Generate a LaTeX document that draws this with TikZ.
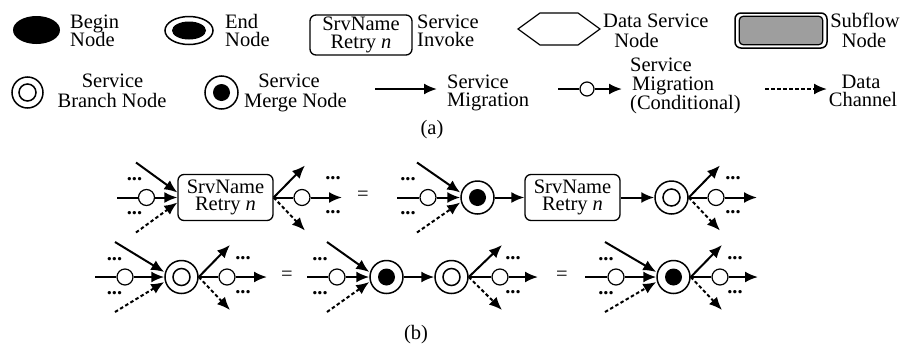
\documentclass[tikz,border=0pt]{standalone}
\usepackage{fontspec}
\setmainfont{Liberation Serif}
\usetikzlibrary{arrows.meta,calc,shapes.geometric}

% incoming fan: horizontal conditional migration, solid and dashed diagonals
% #1 prefix, #2 target node, #3 start x, #4 circle x, #5 diagonal start x, #6 row y, #7 dots x
\newcommand\infan[7]{%
  \coordinate (#1s) at (#3,#6);
  \node[cond] (#1c) at (#4,#6) {};
  \coordinate (#1a) at (#5,#6-35);
  \coordinate (#1b) at (#5,#6+35);
  \node[dotstxt] (#1u) at (#7,#6-18) {...};
  \node[dotstxt] (#1d) at (#7,#6+16) {...};
  \draw[edge] (#1s) -- (#1c);
  \draw[flow] (#1c) -- (#2.west);
  \draw[flow] (#1a) -- ($(#2.west)+(0,-5)$);
  \draw[dflow] (#1b) -- ($(#2.west)+(0,5)$);
}
% outgoing fan
% #1 prefix, #2 source node, #3 circle x, #4 tip x, #5 diagonal tip x, #6 row y, #7 dots x
\newcommand\outfan[7]{%
  \node[cond] (#1c) at (#3,#6) {};
  \coordinate (#1t) at (#4,#6);
  \coordinate (#1a) at (#5,#6-32);
  \coordinate (#1b) at (#5,#6+33);
  \node[dotstxt] (#1u) at (#7,#6-19) {...};
  \node[dotstxt] (#1d) at (#7,#6+15) {...};
  \draw[edge] (#2.east) -- (#1c);
  \draw[flow] (#1c) -- (#1t);
  \draw[flow] (#2.east) -- (#1a);
  \draw[dflow] (#2.east) -- (#1b);
}

\begin{document}
\begin{tikzpicture}[x=1pt,y=-1pt,
  txt/.style={inner sep=0pt, font=\fontsize{20.5}{18}\selectfont},
  dotstxt/.style={inner sep=0pt, font=\fontsize{20.5}{18}\selectfont\bfseries},
  edge/.style={line width=2pt},
  flow/.style={line width=2pt, -{Latex[length=13pt,width=11pt]}},
  dflow/.style={flow, dash pattern=on 3.5pt off 2.5pt},
  cond/.style={circle, draw, fill=white, line width=1.2pt, minimum size=16pt, inner sep=0pt},
  branch/.style={circle, draw, fill=white, line width=1.5pt, minimum size=33pt, inner sep=0pt,
    path picture={\draw[black, line width=1.5pt] (path picture bounding box.center) circle (8.5pt);}},
  merge/.style={circle, draw, fill=white, line width=1.5pt, minimum size=33pt, inner sep=0pt,
    path picture={\fill[black] (path picture bounding box.center) circle (8.5pt);}},
  srvbox/.style={draw, rounded corners=6pt, line width=1.3pt, inner sep=0pt, align=center,
    minimum width=95pt, minimum height=46pt, font=\fontsize{20.5}{17.5}\selectfont},
]
\useasboundingbox (0,0) rectangle (906,346);
\fill[white] (0,0) rectangle (906,346);

% ---------- legend, first row ----------
\node[ellipse, fill=black, minimum width=47pt, minimum height=28pt, inner sep=0pt] (begin) at (36.5,30) {};
\node[txt, anchor=base west] (tbegin1) at (70,28.5) {Begin};
\node[txt, anchor=base west] (tbegin2) at (70,46.5) {Node};

\node[ellipse, draw, line width=1.5pt, minimum width=48pt, minimum height=28pt, inner sep=0pt,
  path picture={\fill[black] (path picture bounding box.center) ellipse (17pt and 9pt);}] (endn) at (189,30.5) {};
\node[txt, anchor=base west] (tend1) at (225,28.5) {End};
\node[txt, anchor=base west] (tend2) at (225,46.5) {Node};

\node[srvbox, minimum width=102pt, minimum height=40pt] (lbox) at (361,35) {SrvName\\Retry \textit{n}};
\node[txt, anchor=base west] (tinv1) at (417,28.5) {Service};
\node[txt, anchor=base west] (tinv2) at (417,46.5) {Invoke};

\draw[line width=1.2pt] (518,29) -- (540,13) -- (578,13) -- (600,29) -- (578,45) -- (540,45) -- cycle;
\node[txt, anchor=base west] (tdata1) at (603,27.5) {Data Service};
\node[txt, anchor=base] (tdata2) at (636.5,47) {Node};

\node[draw, rounded corners=6pt, line width=1.5pt, minimum width=92pt, minimum height=35pt, inner sep=0pt] (sub) at (781,30.5) {};
\draw[fill=black!38, rounded corners=4pt, line width=1.2pt]
  ($(sub.south west)+(5,-4)$) rectangle ($(sub.north east)+(-5,4)$);
\node[txt, anchor=base] (tsub1) at (865,27.5) {Subflow};
\node[txt, anchor=base] (tsub2) at (864,47) {Node};

% ---------- legend, second row ----------
\node[branch, minimum size=31pt] (lbranch) at (27.5,92.5) {};
\node[txt, anchor=base] (tbr1) at (112.5,87) {Service};
\node[txt, anchor=base] (tbr2) at (112,107) {Branch Node};

\node[merge] (lmerge) at (221.5,92.5) {};
\node[txt, anchor=base] (tmg1) at (289,87) {Service};
\node[txt, anchor=base] (tmg2) at (295.5,107) {Merge Node};

\coordinate (sm1) at (375,89);
\coordinate (sm2) at (437,89);
\draw[flow] (sm1) -- (sm2);
\node[txt, anchor=base west] (tsm1) at (447,88) {Service};
\node[txt, anchor=base west] (tsm2) at (447,106) {Migration};

\coordinate (cm1) at (558,89);
\node[cond, minimum size=14pt] (cm0) at (587,89) {};
\coordinate (cm2) at (622,89);
\draw[edge] (cm1) -- (cm0);
\draw[flow] (cm0) -- (cm2);
\node[txt, anchor=base west] (tcm1) at (630,71) {Service};
\node[txt, anchor=base west] (tcm2) at (632,90) {Migration};
\node[txt, anchor=base west] (tcm3) at (630,109) {(Conditional)};

\coordinate (dc1) at (765,89);
\coordinate (dc2) at (827,89);
\draw[dflow] (dc1) -- (dc2);
\node[txt, anchor=base] (tdc1) at (861,88) {Data};
\node[txt, anchor=base] (tdc2) at (863,106) {Channel};

\node[txt, anchor=base] (capa) at (432,134) {(a)};

% ---------- first equivalence ----------
\node[srvbox] (b1) at (225.5,197.5) {SrvName\\Retry \textit{n}};
\node[merge] (m1) at (477.5,197.5) {};
\node[srvbox] (b2) at (572.5,197.5) {SrvName\\Retry \textit{n}};
\node[branch] (r1) at (671.5,197.5) {};
\draw[flow] (m1) -- (b2);
\draw[flow] (b2) -- (r1);
\node[txt] (eq1) at (363,196) {=};

\infan{ia}{b1}{117}{146.5}{136}{197.5}{134.5}
\outfan{oa}{b1}{302}{342}{305}{197.5}{333}
\infan{ib}{m1}{397}{428}{417}{197.5}{408}
\outfan{ob}{r1}{716}{757}{720}{197.5}{733}

% ---------- second equivalence ----------
\node[branch] (rA) at (181.5,277) {};
\node[merge] (mB) at (386.5,277) {};
\node[branch] (rC) at (451.5,277) {};
\node[merge] (mD) at (673.5,277) {};
\draw[flow] (mB) -- (rC);
\node[txt] (eq2) at (287,276) {=};
\node[txt] (eq3) at (562,276) {=};

\infan{ic}{rA}{95}{125}{115}{277}{114.5}
\outfan{oc}{rA}{227}{267}{230}{277}{243}
\infan{id}{mB}{307}{337}{327}{277}{320}
\outfan{od}{rC}{500}{538}{502}{277}{513}
\infan{ie}{mD}{585}{616}{605}{277}{606}
\outfan{oe}{mD}{720}{758}{722}{277}{735}

\node[txt, anchor=base] (capb) at (416,339) {(b)};
\end{tikzpicture}
\end{document}
